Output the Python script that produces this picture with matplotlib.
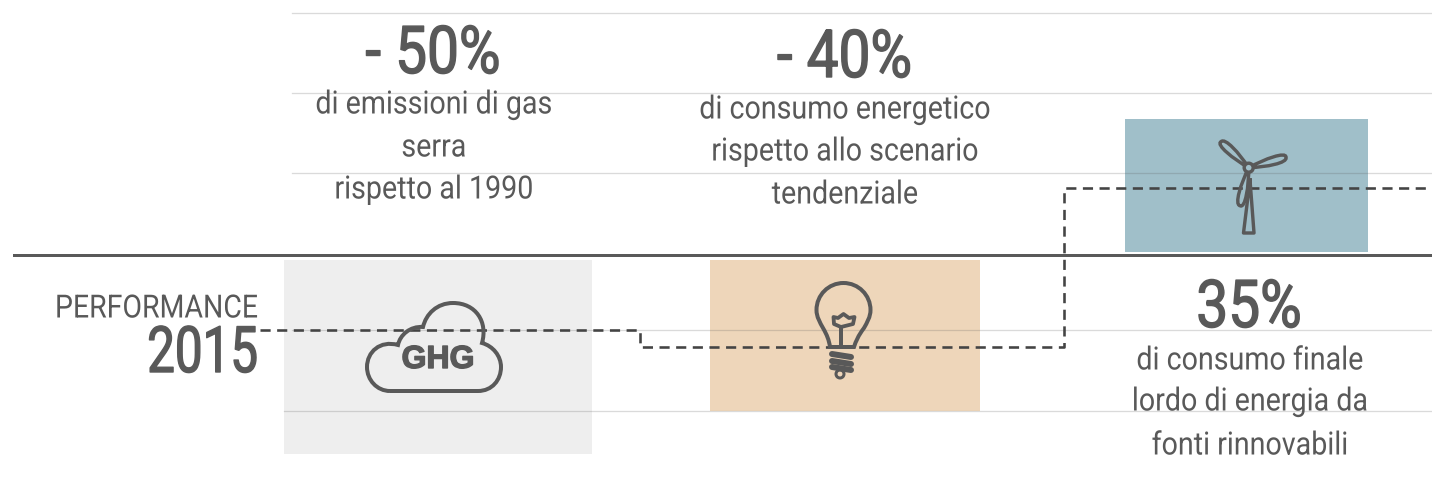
#!/usr/bin/env python
"""Obiettivi vs performance 2015: three target tiles with a dashed step line."""

import matplotlib
matplotlib.use("Agg")
import matplotlib.pyplot as plt
import numpy as np
from matplotlib.patches import Circle, PathPatch, Rectangle
from matplotlib.path import Path
from matplotlib.patheffects import AbstractPathEffect
from matplotlib.transforms import Affine2D

# all positions below are in picture pixels
WIDTH, HEIGHT = 1432, 486

grid_y = [13, 93, 173, 330, 411]
grid_start = [292, 292, 292, 292, 284]
baseline_y = 255

tile_left = [284, 710, 1125]
tile_right = [592, 980, 1368]
tile_top = [260, 260, 119]
tile_bottom = [454, 411, 252]
tile_colors = ["#eeeeee", "#eed6ba", "#a0bfc9"]

perf_x = [260, 640, 640, 1064, 1064, 1432]
perf_y = [330, 330, 347, 347, 188, 188]

headlines = ["- 50%", "- 40%", "35%"]
headline_x = [433, 844.5, 1249]
headline_y = [55, 59, 309]
captions = [
    ["di emissioni di gas", "serra", "rispetto al 1990"],
    ["di consumo energetico", "rispetto allo scenario", "tendenziale"],
    ["di consumo finale", "lordo di energia da", "fonti rinnovabili"],
]
caption_x = [434, 845, 1250]
caption_y = [[105, 148, 190], [110, 152, 195], [361, 402, 446]]

DARK = "#595959"
FONT = ["Roboto", "DejaVu Sans"]


class Squeeze(AbstractPathEffect):
    """Narrow a text around its anchor (reference font is condensed), with an optional thin outline."""

    def __init__(self, anchor_x, factor, stroke=0):
        super().__init__()
        self.anchor_x = anchor_x
        self.factor = factor
        self.stroke = stroke

    def draw_path(self, renderer, gc, tpath, affine, rgbFace=None):
        narrow = Affine2D().translate(-self.anchor_x, 0).scale(self.factor, 1).translate(self.anchor_x, 0)
        gc0 = renderer.new_gc()
        gc0.copy_properties(gc)
        gc0.set_linewidth(self.stroke)
        gc0.set_foreground(DARK)
        renderer.draw_path(gc0, tpath, affine + narrow, rgbFace)
        gc0.restore()


def px(size):
    """Pixel size to points at dpi 100."""
    return size * 0.72


def label(ax, x, y, text, size, factor, ha="center", stroke=0):
    ax.text(x, y, text, ha=ha, va="center", color=DARK, fontsize=px(size), family=FONT,
            path_effects=[Squeeze(x, factor, stroke)], zorder=6)


def draw_cloud(ax):
    verts = [
        (390, 391), (478, 391),
        (492, 391), (501, 380), (501, 367),
        (501, 356), (493, 346), (482, 343),
        (488, 322), (476, 303), (453, 303),
        (437, 303), (426, 314), (423, 327),
        (410, 326), (400, 335), (398, 345),
        (380, 340), (367, 352), (367, 367),
        (367, 380), (377, 391), (390, 391),
    ]
    codes = [Path.MOVETO, Path.LINETO] + [Path.CURVE4] * 21
    ax.add_patch(PathPatch(Path(verts, codes), fc="none", ec=DARK, lw=px(4), zorder=4))
    ax.text(438, 360, "GHG", ha="center", va="center", color=DARK, fontsize=px(32),
            family=["Liberation Sans", "DejaVu Sans"], fontweight="bold",
            path_effects=[Squeeze(438, 1.0, 1.0)], zorder=4)


def draw_bulb(ax):
    verts = [
        (823, 328),
        (820, 322.5), (816.5, 317), (816.5, 310),
        (816.5, 295), (828.6, 283), (843.5, 283),
        (858.4, 283), (870.5, 295), (870.5, 310),
        (870.5, 317), (867, 322.5), (864, 328),
        (858, 336), (856, 341), (854, 347),
        (830, 347),
        (829, 340), (827, 335), (823, 328),
    ]
    codes = [Path.MOVETO] + [Path.CURVE4] * 15 + [Path.LINETO] + [Path.CURVE4] * 3
    ax.add_patch(PathPatch(Path(verts, codes), fc="none", ec=DARK, lw=px(4), zorder=4))

    # filament
    ax.plot([841, 841], [347, 327], color=DARK, lw=px(4), zorder=4)
    ax.plot([841, 834, 833.5, 838, 843.5, 849, 854.5, 853, 841],
            [327, 324, 317, 318, 314, 318, 317, 324, 327],
            color=DARK, lw=px(3.8), solid_joinstyle="round", zorder=4)

    # screw base
    for y0, y1 in [(354, 357), (361, 364), (367, 370)]:
        ax.plot([832, 851], [y0, y1], color=DARK, lw=px(6), solid_capstyle="round", zorder=4)
    ax.add_patch(Circle((840, 374), 4, fc="none", ec=DARK, lw=px(3), zorder=4))


def blade_path(hub, tip, width):
    hub = np.array(hub)
    along = np.array(tip) - hub
    side = np.array([-along[1], along[0]]) / np.hypot(*along) * width
    verts = [
        hub,
        hub + 0.45 * along + 0.7 * side, hub + 1.0 * along + side, hub + along,
        hub + 1.05 * along - side, hub + 0.45 * along - 0.7 * side, hub,
    ]
    return Path(verts, [Path.MOVETO] + [Path.CURVE4] * 6)


def draw_turbine(ax):
    hub = (1248.7, 167.7)
    for tip in [(1221, 141.7), (1286, 157.3), (1240, 205.7)]:
        ax.add_patch(PathPatch(blade_path(hub, tip, 6), fc="none", ec=DARK, lw=px(3.4), zorder=4))
    ax.add_patch(Circle(hub, 4.5, fc="#a0bfc9", ec=DARK, lw=px(3.4), zorder=5))
    ax.plot([1250, 1243.5, 1254, 1250], [180, 233, 233, 180], color=DARK, lw=px(3.4),
            solid_joinstyle="round", zorder=4)


fig = plt.figure(figsize=(WIDTH / 100, HEIGHT / 100), dpi=100)
ax = fig.add_axes([0, 0, 1, 1])
ax.set_xlim(0, WIDTH)
ax.set_ylim(HEIGHT, 0)
ax.axis("off")

for left, right, top, bottom, color in zip(tile_left, tile_right, tile_top, tile_bottom, tile_colors):
    ax.add_patch(Rectangle((left, top), right - left, bottom - top, fc=color, ec="none", zorder=1))

for y, start in zip(grid_y, grid_start):
    ax.plot([start, WIDTH], [y, y], color="#5a5a5a", alpha=0.22, lw=px(1.3), zorder=2)
ax.plot([14, WIDTH], [baseline_y, baseline_y], color=DARK, lw=px(3), zorder=2)

draw_cloud(ax)
draw_bulb(ax)
draw_turbine(ax)

ax.plot(perf_x, perf_y, color="#444444", lw=px(2.6), dashes=(3.9, 2.5), zorder=3)

for text, x, y in zip(headlines, headline_x, headline_y):
    label(ax, x, y, text, 66, 0.86, stroke=1.0)
for lines, ys, x in zip(captions, caption_y, caption_x):
    for line, y in zip(lines, ys):
        label(ax, x, y, line, 32, 0.895)

label(ax, 258, 309, "PERFORMANCE", 32, 0.89, ha="right")
label(ax, 258, 354, "2015", 64, 0.77, ha="right", stroke=1.0)

fig.savefig("out.png", dpi=100)
plt.close(fig)
